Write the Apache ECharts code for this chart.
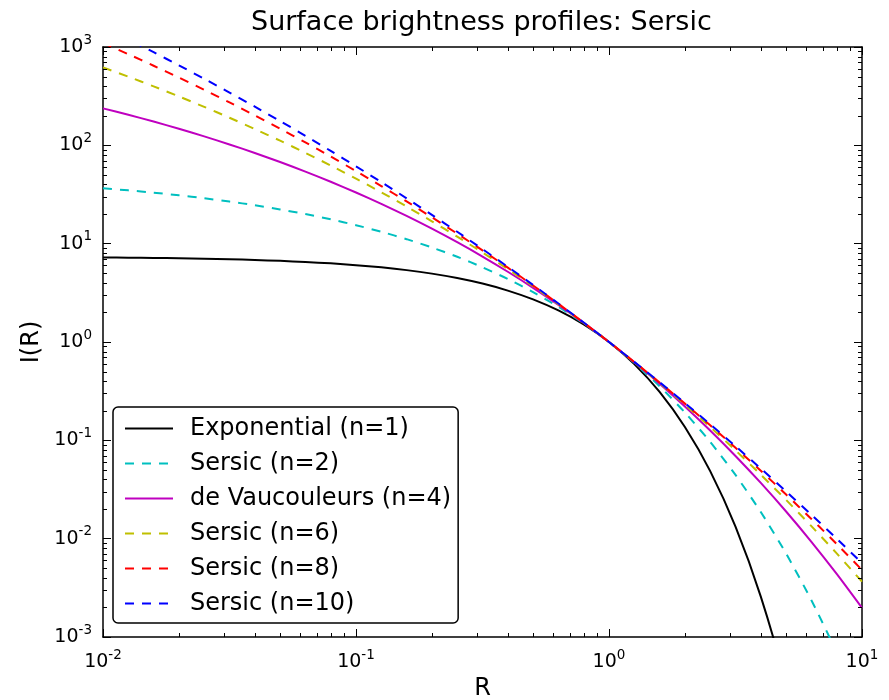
<!DOCTYPE html>
<html>
<head>
<meta charset="utf-8">
<script src="https://cdn.jsdelivr.net/npm/echarts@6/dist/echarts.min.js"></script>
<style>
  html, body { margin: 0; padding: 0; background: #fff; }
  #chart { width: 889px; height: 700px; }
</style>
</head>
<body>
<div id="chart"></div>
<script>
// ---- Data ----
const R = [0.01, 0.012589, 0.015849, 0.019953, 0.025119, 0.031623, 0.039811, 0.050119, 0.063096, 0.079433,
           0.1, 0.12589, 0.15849, 0.19953, 0.25119, 0.31623, 0.39811, 0.50119, 0.63096, 0.79433,
           1, 1.2589, 1.5849, 1.9953, 2.5119, 3.1623, 3.9811, 5.0119, 6.3096, 7.9433, 10];

const I_exp = [7.244, 7.206, 7.159, 7.100, 7.027, 6.937, 6.824, 6.685, 6.514, 6.304,
               6.049, 5.744, 5.382, 4.958, 4.472, 3.927, 3.333, 2.712, 2.092, 1.509,
               1.0, 0.5957, 0.3104, 0.1366, 0.04862, 0.01323, 0.002574, 0.0003276, 0.0000244, 0.00000093, 0.000000015];

const I_n2 = [36.60, 34.85, 33.00, 31.03, 28.96, 26.81, 24.58, 22.30, 19.99, 17.68,
              15.41, 13.21, 11.11, 9.146, 7.355, 5.757, 4.376, 3.216, 2.277, 1.545,
              1.0, 0.6138, 0.3550, 0.1920, 0.09637, 0.04446, 0.01867, 0.007049, 0.002364, 0.0006937, 0.0001753];

const I_n4 = [237.5, 204.4, 174.4, 147.4, 123.4, 102.1, 83.64, 67.68, 54.08, 42.65,
              33.16, 25.40, 19.15, 14.20, 10.34, 7.395, 5.183, 3.557, 2.387, 1.564,
              1.0, 0.6225, 0.3768, 0.2214, 0.1260, 0.06938, 0.03687, 0.01888, 0.009287, 0.004381, 0.001977];

const I_n6 = [620.2, 498.8, 397.7, 314.3, 246.2, 190.9, 146.6, 111.5, 83.81, 62.32,
              45.81, 33.27, 23.86, 16.89, 11.80, 8.127, 5.516, 3.688, 2.427, 1.571,
              1.0, 0.6253, 0.3839, 0.2313, 0.1366, 0.07900, 0.04473, 0.02477, 0.01340, 0.007080, 0.003648];

const I_n8 = [1099, 845.4, 645.1, 488.4, 366.7, 273.1, 201.6, 147.6, 107.0, 76.87,
              54.69, 38.53, 26.86, 18.53, 12.65, 8.539, 5.697, 3.757, 2.447, 1.575,
              1.0, 0.6267, 0.3875, 0.2362, 0.1420, 0.08404, 0.04900, 0.02812, 0.01588, 0.008818, 0.004813];

const I_n10 = [1605, 1196, 885.5, 650.9, 475.0, 344.2, 247.5, 176.6, 125.0, 87.80,
               61.16, 42.24, 28.93, 19.63, 13.21, 8.802, 5.811, 3.800, 2.460, 1.577,
               1.0, 0.6276, 0.3896, 0.2392, 0.1452, 0.08713, 0.05166, 0.03026, 0.01750, 0.009998, 0.005636];

const seriesNames = ['Exponential (n=1)', 'Sersic (n=2)', 'de Vaucouleurs (n=4)',
                     'Sersic (n=6)', 'Sersic (n=8)', 'Sersic (n=10)'];

// Tick values and labels
const xMajorTicks = [0.01, 0.1, 1, 10];
const xTickExponents = ['-2', '-1', '0', '1'];
const yMajorTicks = [0.001, 0.01, 0.1, 1, 10, 100, 1000];
const yTickExponents = ['-3', '-2', '-1', '0', '1', '2', '3'];
const minorMultipliers = [2, 3, 4, 5, 6, 7, 8, 9];

// ---- Chart ----
const FONT = 'DejaVu Sans';
const chart = echarts.init(document.getElementById('chart'), null, { renderer: 'canvas' });

function tickLabel(ticks, exps) {
  return function (v) {
    let best = 0, bd = Infinity;
    for (let i = 0; i < ticks.length; i++) {
      const d = Math.abs(Math.log10(v) - Math.log10(ticks[i]));
      if (d < bd) { bd = d; best = i; }
    }
    return '{b|10}{s|' + exps[best] + '}';
  };
}
const richLabel = {
  b: { fontSize: 19, lineHeight: 28, fontFamily: FONT, color: '#000' },
  s: { fontSize: 13.5, lineHeight: 12, verticalAlign: 'top', fontFamily: FONT, color: '#000' }
};

// minor tick positions (decorations on the axes)
const minorData = [];
xMajorTicks.slice(0, -1).forEach(function (d) {
  minorMultipliers.forEach(function (m) { minorData.push([d * m, 1, 0]); });
});
yMajorTicks.slice(0, -1).forEach(function (d) {
  minorMultipliers.forEach(function (m) { minorData.push([1, d * m, 1]); });
});

const lineDefs = [
  { data: I_exp, color: '#000000', type: 'solid' },
  { data: I_n2, color: '#00bfbf', type: [9, 8] },
  { data: I_n4, color: '#bf00bf', type: 'solid' },
  { data: I_n6, color: '#bfbf00', type: [9, 8] },
  { data: I_n8, color: '#ff0000', type: [9, 8] },
  { data: I_n10, color: '#0000ff', type: [9, 8] }
];

const series = lineDefs.map(function (d, i) {
  return {
    name: seriesNames[i],
    type: 'line',
    xAxisIndex: 0,
    yAxisIndex: 0,
    data: R.map(function (r, j) { return [r, d.data[j]]; }),
    symbol: 'none',
    smooth: 0.25,
    clip: true,
    color: d.color,
    lineStyle: { color: d.color, width: 2, type: d.type, cap: 'butt' },
    emphasis: { disabled: true },
    silent: true
  };
});

series.push({
  type: 'custom',
  xAxisIndex: 0,
  yAxisIndex: 0,
  silent: true,
  clip: false,
  z: 5,
  data: minorData,
  renderItem: function (params, api) {
    const cs = params.coordSys;
    const kind = api.value(2);
    const st = { stroke: '#000', lineWidth: 1 };
    if (kind === 0) {
      const px = Math.round(api.coord([api.value(0), 1])[0]) + 0.5;
      const yb = cs.y + cs.height, yt = cs.y;
      return { type: 'group', children: [
        { type: 'line', shape: { x1: px, y1: yb, x2: px, y2: yb - 4 }, style: st },
        { type: 'line', shape: { x1: px, y1: yt, x2: px, y2: yt + 4 }, style: st }
      ]};
    } else {
      const py = Math.round(api.coord([1, api.value(1)])[1]) + 0.5;
      const xl = cs.x, xr = cs.x + cs.width;
      return { type: 'group', children: [
        { type: 'line', shape: { x1: xl, y1: py, x2: xl + 4, y2: py }, style: st },
        { type: 'line', shape: { x1: xr, y1: py, x2: xr - 4, y2: py }, style: st }
      ]};
    }
  }
});

const axisLineStyle = { show: true, lineStyle: { color: '#000', width: 1.5 } };
const majorTick = { show: true, inside: true, length: 8, lineStyle: { color: '#000', width: 1 } };

const option = {
  animation: false,
  backgroundColor: '#fff',
  title: {
    text: 'Surface brightness profiles: Sersic',
    left: 251,
    top: 9,
    padding: 0,
    textStyle: { fontFamily: FONT, fontSize: 27, fontWeight: 'normal', color: '#000' }
  },
  grid: { left: 103, right: 27, top: 47, bottom: 63, containLabel: false, outerBoundsMode: 'none' },
  legend: {
    data: seriesNames,
    orient: 'vertical',
    left: 113,
    top: 407,
    padding: [4, 7, 2, 11],
    itemGap: 0,
    itemWidth: 48,
    itemHeight: 2,
    selectedMode: false,
    backgroundColor: '#fff',
    borderColor: '#000',
    borderWidth: 1.5,
    borderRadius: 5,
    itemStyle: { opacity: 0, borderWidth: 0 },
    textStyle: { fontFamily: FONT, fontSize: 24, lineHeight: 35, color: '#000', padding: [0, 0, 0, 12] }
  },
  xAxis: [
    {
      type: 'log', logBase: 10, min: 0.01, max: 10, position: 'bottom',
      name: 'R', nameLocation: 'middle', nameGap: 39,
      nameTextStyle: { fontFamily: FONT, fontSize: 24, color: '#000' },
      axisLine: axisLineStyle, axisTick: majorTick, splitLine: { show: false },
      axisLabel: { margin: 11, formatter: tickLabel(xMajorTicks, xTickExponents), rich: richLabel }
    },
    {
      type: 'log', logBase: 10, min: 0.01, max: 10, position: 'top',
      axisLine: axisLineStyle, axisTick: majorTick, splitLine: { show: false },
      axisLabel: { show: false }
    }
  ],
  yAxis: [
    {
      type: 'log', logBase: 10, min: 0.001, max: 1000, position: 'left',
      name: 'I(R)', nameLocation: 'middle', nameGap: 55,
      nameTextStyle: { fontFamily: FONT, fontSize: 24, color: '#000' },
      axisLine: axisLineStyle, axisTick: majorTick, splitLine: { show: false },
      axisLabel: { margin: 11, formatter: tickLabel(yMajorTicks, yTickExponents), rich: richLabel }
    },
    {
      type: 'log', logBase: 10, min: 0.001, max: 1000, position: 'right',
      axisLine: axisLineStyle, axisTick: majorTick, splitLine: { show: false },
      axisLabel: { show: false }
    }
  ],
  series: series
};
chart.setOption(option);
</script>
</body>
</html>
